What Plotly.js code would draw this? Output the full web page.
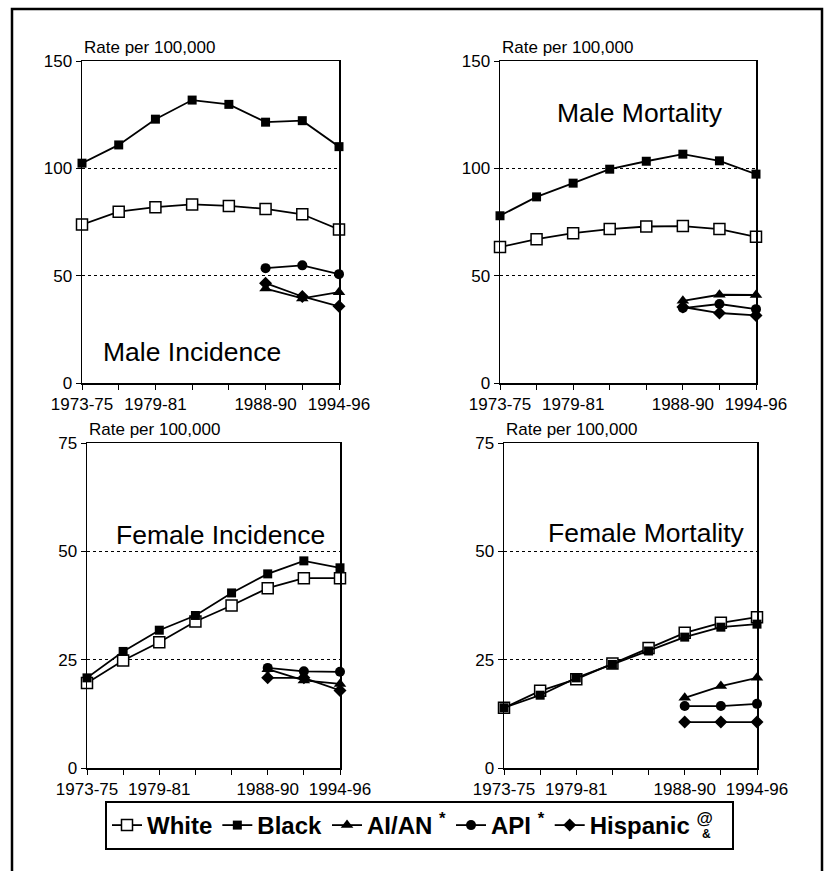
<!DOCTYPE html>
<html>
<head>
<meta charset="utf-8">
<script src="https://cdn.plot.ly/plotly-3.0.1.min.js"></script>
<style>html,body{margin:0;padding:0;background:#fff;}#chart{width:827px;height:871px;}</style>
</head>
<body>
<div id="chart"></div>
<script>
// ---- data ----
const periods = ['1973-75','1976-78','1979-81','1982-84','1985-87','1988-90','1991-93','1994-96'];
const tickLabels = ['1973-75','','1979-81','','','1988-90','','1994-96'];
const recentPeriods = ['1988-90','1991-93','1994-96'];
const seriesNames = ['White','Black','AI/AN <sup>*</sup>','API <sup>*</sup>','Hispanic <sup>@</sup>\u00a0\u00a0'];
const panelTitles = ['Male Incidence','Male Mortality','Female Incidence','Female Mortality'];
const maleTicks = [0,50,100,150];
const femaleTicks = [0,25,50,75];

const maleIncWhite = [73.8, 79.8, 81.9, 83.2, 82.5, 81.1, 78.6, 71.5];
const maleIncBlack = [102.4, 110.9, 122.9, 131.8, 129.8, 121.5, 122.2, 110.1];
const maleIncAIAN = [44.0, 39.4, 42.3];
const maleIncAPI = [53.5, 54.8, 50.7];
const maleIncHisp = [46.5, 40.3, 35.7];

const maleMortWhite = [63.3, 67.0, 69.8, 71.7, 72.9, 73.1, 71.7, 68.1];
const maleMortBlack = [77.9, 86.7, 93.1, 99.6, 103.3, 106.6, 103.5, 97.3];
const maleMortAIAN = [38.3, 41.1, 41.0];
const maleMortAPI = [34.9, 36.8, 34.4];
const maleMortHisp = [35.4, 32.6, 31.5];

const femIncWhite = [19.6, 24.8, 29.0, 33.8, 37.5, 41.5, 43.8, 43.8];
const femIncBlack = [20.8, 26.9, 31.8, 35.2, 40.4, 44.8, 47.8, 46.2];
const femIncAIAN = [22.8, 20.2, 19.4];
const femIncAPI = [23.1, 22.3, 22.2];
const femIncHisp = [20.8, 20.8, 17.9];

const femMortWhite = [13.9, 17.8, 20.5, 24.1, 27.7, 31.2, 33.5, 34.8];
const femMortBlack = [13.9, 16.8, 20.8, 23.9, 27.0, 30.2, 32.5, 33.2];
const femMortAIAN = [16.2, 18.9, 20.8];
const femMortAPI = [14.3, 14.3, 14.8];
const femMortHisp = [10.6, 10.6, 10.6];

// ---- styling / layout ----
const W = 827, H = 871;
const FONT = 'Liberation Sans, Arial, Helvetica, sans-serif';
const markerStyles = [
  {symbol:'square', size:11, color:'#fff', line:{color:'#000', width:1.5}},
  {symbol:'square', size:9, color:'#000', line:{color:'#000', width:0}},
  {symbol:'triangle-up', size:11, color:'#000', line:{color:'#000', width:0}},
  {symbol:'circle', size:10, color:'#000', line:{color:'#000', width:0}},
  {symbol:'diamond', size:10, color:'#000', line:{color:'#000', width:0}}
];
// plot boxes in pixels: [left, right, top, bottom]
const boxes = [[82,339,61,383],[500,756,61,383],[87,340,443,768],[504,757,443,768]];
const panelData = [
  [maleIncWhite, maleIncBlack, maleIncAIAN, maleIncAPI, maleIncHisp],
  [maleMortWhite, maleMortBlack, maleMortAIAN, maleMortAPI, maleMortHisp],
  [femIncWhite, femIncBlack, femIncAIAN, femIncAPI, femIncHisp],
  [femMortWhite, femMortBlack, femMortAIAN, femMortAPI, femMortHisp]
];
const panelTicks = [maleTicks, maleTicks, femaleTicks, femaleTicks];
// title positions (pixel centre)
const titlePos = [[192,352],[640,113],[220,535],[646,533]];

const traces = [];
const layout = {
  width: W, height: H,
  margin: {l:0, r:0, t:0, b:0},
  paper_bgcolor: '#fff', plot_bgcolor: '#fff',
  font: {family: FONT, color: '#000'},
  showlegend: true,
  legend: {
    orientation: 'h',
    x: 105/W, xanchor: 'left',
    y: 1 - 801/H, yanchor: 'top',
    bordercolor: '#000', borderwidth: 2,
    bgcolor: '#fff',
    font: {family: FONT, size: 24, weight: 'bold', color: '#000'},
    itemwidth: 30,
    traceorder: 'normal'
  },
  annotations: [
    {xref:'paper', yref:'paper', x: 706/W, y: 1 - 834/H, xanchor:'center', yanchor:'middle',
     showarrow:false, text:'&', font:{family: FONT, size: 12, weight:'bold', color:'#000'}}
  ],
  shapes: [
    {type:'rect', xref:'paper', yref:'paper', x0: 12/W, x1: 822/W, y0: -0.02, y1: 1 - 9/H,
     line:{color:'#000', width:2.5}, fillcolor:'rgba(0,0,0,0)', layer:'below'}
  ]
};

boxes.forEach((b, i) => {
  const n = i + 1;
  const xa = 'xaxis' + (n === 1 ? '' : n);
  const ya = 'yaxis' + (n === 1 ? '' : n);
  const ticks = panelTicks[i];
  layout[xa] = {
    domain: [b[0]/W, b[1]/W],
    type: 'category', categoryorder: 'array', categoryarray: periods,
    range: [0, periods.length - 1],
    tickmode: 'array', tickvals: periods, ticktext: tickLabels,
    ticks: 'outside', ticklen: 5, tickwidth: 1, tickcolor: '#000',
    showline: true, linecolor: '#000', linewidth: 1.5, mirror: true,
    showgrid: false, zeroline: false,
    tickfont: {family: FONT, size: 17, color: '#000'},
    anchor: 'y' + (n === 1 ? '' : n), fixedrange: true
  };
  layout[ya] = {
    domain: [1 - b[3]/H, 1 - b[2]/H],
    range: [ticks[0], ticks[ticks.length-1]],
    tickmode: 'array', tickvals: ticks,
    ticks: 'outside', ticklen: 5, tickwidth: 1, tickcolor: '#000',
    showline: true, linecolor: '#000', linewidth: 1.5, mirror: true,
    showgrid: true, gridcolor: '#000', gridwidth: 1, griddash: 'dot',
    zeroline: false,
    tickfont: {family: FONT, size: 17, color: '#000'},
    anchor: 'x' + (n === 1 ? '' : n), fixedrange: true
  };
  panelData[i].forEach((vals, s) => {
    traces.push({
      type: 'scatter', mode: 'lines+markers',
      x: vals.length === periods.length ? periods : recentPeriods,
      y: vals,
      xaxis: 'x' + (n === 1 ? '' : n), yaxis: 'y' + (n === 1 ? '' : n),
      name: seriesNames[s], legendgroup: 'g' + s,
      showlegend: i === 0,
      line: {color: '#000', width: 1.8},
      marker: markerStyles[s],
      cliponaxis: false
    });
  });
  layout.annotations.push({
    xref: 'paper', yref: 'paper', x: b[0]/W, y: 1 - (b[2]-2)/H,
    xanchor: 'left', yanchor: 'bottom', showarrow: false,
    text: 'Rate per 100,000', font: {family: FONT, size: 17, color: '#000'}
  });
  layout.annotations.push({
    xref: 'paper', yref: 'paper', x: titlePos[i][0]/W, y: 1 - titlePos[i][1]/H,
    xanchor: 'center', yanchor: 'middle', showarrow: false,
    text: panelTitles[i], font: {family: FONT, size: 26.5, color: '#000'}
  });
});

Plotly.newPlot('chart', traces, layout, {staticPlot: true, displayModeBar: false});
</script>
</body>
</html>
